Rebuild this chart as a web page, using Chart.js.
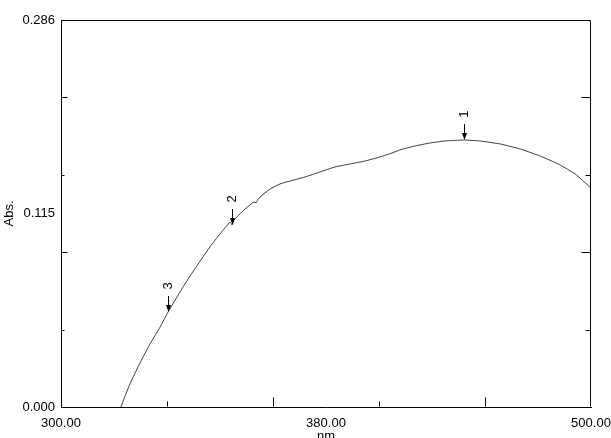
<!DOCTYPE html>
<html><head><meta charset="utf-8">
<script src="https://cdn.jsdelivr.net/npm/chart.js@4"></script>
<style>html,body{margin:0;padding:0;background:#fff}#wrap{width:611px;height:438px;position:relative}</style>
</head><body><div id="wrap"><canvas id="c" width="611" height="438"></canvas></div>
<script>
// Spectrum data (nm, Abs.)
const wavelength = [322.6,326.0,329.8,333.6,337.4,340.4,344.9,348.7,352.5,356.2,360.0,363.8,364.5,365.2,366.0,369.4,372.8,373.6,374.2,375.1,378.9,382.6,386.4,392.1,397.7,403.4,409.1,414.7,420.4,424.9,427.9,433.6,439.2,444.9,452.1,458.1,465.7,473.2,480.8,488.3,494.0,499.6];
const absorbance = [0.000,0.0170,0.0325,0.0466,0.0591,0.0702,0.0850,0.0968,0.1079,0.1183,0.1279,0.1367,0.1345,0.1382,0.1397,0.1463,0.1515,0.1508,0.1530,0.1552,0.1611,0.1648,0.1670,0.1700,0.1737,0.1774,0.1796,0.1818,0.1848,0.1877,0.1900,0.1929,0.1951,0.1966,0.1973,0.1966,0.1944,0.1907,0.1855,0.1789,0.1722,0.1626];
const xTickLabels = ["300.00","380.00","500.00"];
const yTickLabels = ["0.000","0.115","0.286"];
const peakLabels = ["1","2","3"];
const peakNm = [452.1,364.5,340.4];
const peakAbs = [0.1973,0.1345,0.0702];
const xMin = 300, xMax = 500, yMin = 0, yMax = 0.286;

const FONT = "'Liberation Sans', Arial, sans-serif";

const framePlugin = {
  id: 'frame',
  afterDraw(chart) {
    const ctx = chart.ctx, a = chart.chartArea;
    const xs = chart.scales.x, ys = chart.scales.y;
    const L = Math.round(a.left) + 0.5, R = Math.round(a.right) - 0.5;
    const T = Math.round(a.top) + 0.5, B = Math.round(a.bottom) - 0.5;
    ctx.save();
    ctx.strokeStyle = '#000'; ctx.lineWidth = 1;
    ctx.beginPath();
    ctx.moveTo(L, T); ctx.lineTo(R, T); ctx.lineTo(R, B);
    ctx.stroke();
    // tick marks: 5 divisions each axis
    ctx.beginPath();
    for (let i = 1; i < 5; i++) {
      const yv = yMin + (yMax - yMin) * i / 5;
      const py = Math.round(ys.getPixelForValue(yv)) + 0.5;
      const longT = (i % 2 === 0);
      ctx.moveTo(L, py); ctx.lineTo(L + (longT ? 6 : 3), py);
      ctx.moveTo(R, py); ctx.lineTo(R - (longT ? 9 : 5), py);
      const xv = xMin + (xMax - xMin) * i / 5;
      const px = Math.round(xs.getPixelForValue(xv)) + 0.5;
      ctx.moveTo(px, B); ctx.lineTo(px, B - (longT ? 9 : 5));
    }
    ctx.stroke();
    // peak markers
    ctx.fillStyle = '#000';
    ctx.font = '13px ' + FONT;
    ctx.textAlign = 'center'; ctx.textBaseline = 'middle';
    for (let i = 0; i < peakLabels.length; i++) {
      const px = Math.round(xs.getPixelForValue(peakNm[i])) + 0.5;
      const py = ys.getPixelForValue(peakAbs[i]);
      ctx.beginPath();
      ctx.moveTo(px, py - 16); ctx.lineTo(px, py - 5);
      ctx.stroke();
      ctx.beginPath();
      ctx.moveTo(px - 2.5, py - 7); ctx.lineTo(px + 2.5, py - 7); ctx.lineTo(px, py);
      ctx.closePath(); ctx.fill();
      ctx.save();
      ctx.translate(px, py - 26);
      ctx.rotate(-Math.PI / 2);
      ctx.fillText(peakLabels[i], 0, 0);
      ctx.restore();
    }
    ctx.restore();
  }
};

new Chart(document.getElementById('c'), {
  type: 'line',
  data: {
    datasets: [{
      data: wavelength.map((w, i) => ({x: w, y: absorbance[i]})),
      borderColor: '#3a3a3a',
      borderWidth: 1,
      pointRadius: 0,
      tension: 0.15,
      fill: false
    }]
  },
  options: {
    responsive: false,
    devicePixelRatio: 1,
    animation: false,
    layout: {padding: {top: 20, right: 0, left: 0, bottom: 0}},
    plugins: {legend: {display: false}, tooltip: {enabled: false}},
    scales: {
      x: {
        type: 'linear', min: xMin, max: xMax,
        afterBuildTicks: s => { s.ticks = [xMin, (xMin + xMax) / 2, xMax].map(v => ({value: v})); },
        afterFit: s => { s.height = 31; s.paddingRight = 20; s.paddingLeft = 0; },
        grid: {display: false, drawTicks: false},
        border: {display: true, color: '#000', width: 1},
        ticks: {
          autoSkip: false, maxRotation: 0, padding: 9, color: '#000',
          font: {family: FONT, size: 13},
          callback: (v, i) => xTickLabels[i]
        },
        title: {display: true, text: 'nm', color: '#000', font: {family: FONT, size: 13}, padding: {top: 0, bottom: -6}}
      },
      y: {
        type: 'linear', min: yMin, max: yMax,
        afterBuildTicks: s => { s.ticks = [yMin, (yMin + yMax) / 2, yMax].map(v => ({value: v})); },
        afterFit: s => { s.width = 61; },
        grid: {display: false, drawTicks: false},
        border: {display: true, color: '#000', width: 1},
        ticks: {
          autoSkip: false, padding: 6, color: '#000',
          font: {family: FONT, size: 13},
          callback: (v, i) => yTickLabels[i]
        },
        title: {display: true, text: 'Abs.', color: '#000', font: {family: FONT, size: 13}, padding: {top: 2, bottom: 0}}
      }
    }
  },
  plugins: [framePlugin]
});
</script>
</body></html>
